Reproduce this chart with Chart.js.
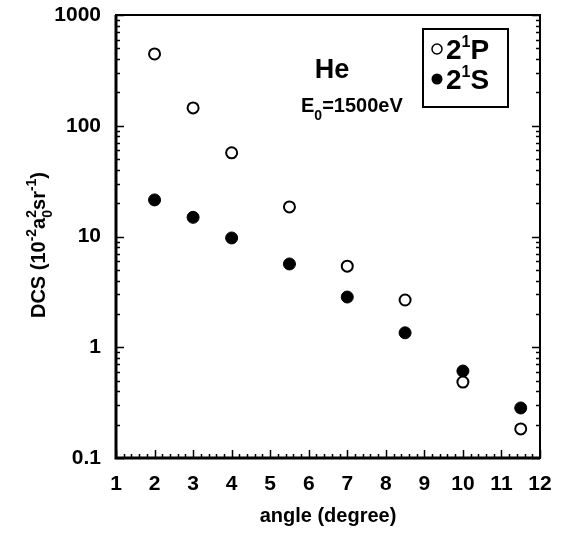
<!DOCTYPE html>
<html>
<head>
<meta charset="utf-8">
<script src="https://cdn.jsdelivr.net/npm/chart.js@4"></script>
<style>
  body { margin: 0; background: #fff; }
  canvas { display: block; }
</style>
</head>
<body>
<canvas id="dcsChart" width="562" height="536"></canvas>
<script>
// angle (degree) and DCS values
const angles = [2, 3, 4, 5.5, 7, 8.5, 10, 11.5];
const dcs21P = [445, 145, 57, 18.5, 5.4, 2.67, 0.485, 0.183];
const dcs21S = [21.4, 14.9, 9.7, 5.65, 2.84, 1.35, 0.61, 0.283];
const decadeLabels = ['0.1', '1', '10', '100', '1000'];

const FONT = 'Liberation Sans, Arial, sans-serif';

function toPoints(ys) {
    return angles.map((x, i) => ({ x: x, y: ys[i] }));
}

// draws text pieces one after the other, some raised or lowered
function drawPieces(ctx, pieces, x, y) {
    let cx = x;
    pieces.forEach(p => {
        ctx.font = 'bold ' + p.size + 'px ' + FONT;
        if (p.stack) {
            // super and subscript on the same spot
            let w = 0;
            p.stack.forEach(s => {
                ctx.font = 'bold ' + s.size + 'px ' + FONT;
                ctx.fillText(s.t, cx, y + s.dy);
                w = Math.max(w, ctx.measureText(s.t).width);
            });
            cx += w;
        } else {
            ctx.fillText(p.t, cx, y + (p.dy || 0));
            cx += ctx.measureText(p.t).width;
        }
    });
    return cx - x;
}

function piecesWidth(ctx, pieces) {
    ctx.save();
    ctx.globalAlpha = 0;
    const w = drawPieces(ctx, pieces, 0, 0);
    ctx.restore();
    return w;
}

const framePlugin = {
    id: 'frameAndText',
    afterDraw(chart) {
        const ctx = chart.ctx;
        const a = chart.chartArea;
        const xs = chart.scales.x;
        const ys = chart.scales.y;
        ctx.save();
        ctx.strokeStyle = '#000';
        ctx.fillStyle = '#000';

        // frame
        ctx.lineWidth = 2;
        ctx.strokeRect(a.left, a.top, a.right - a.left, a.bottom - a.top);
        ctx.lineWidth = 3;
        ctx.beginPath();
        ctx.moveTo(a.left, a.top);
        ctx.lineTo(a.left, a.bottom);
        ctx.lineTo(a.right, a.bottom);
        ctx.stroke();

        // inward ticks
        ctx.lineWidth = 1.5;
        ctx.beginPath();
        for (let v = 1; v <= 12.001; v += 0.2) {
            const px = Math.round(xs.getPixelForValue(v)) + 0.5;
            const major = Math.abs(v - Math.round(v)) < 1e-6;
            ctx.moveTo(px, a.bottom);
            ctx.lineTo(px, a.bottom - (major ? 8 : 4));
        }
        for (let d = -1; d <= 3; d++) {
            for (let m = 1; m <= 9; m++) {
                const v = m * Math.pow(10, d);
                if (v > 1000.0001) break;
                const py = Math.round(ys.getPixelForValue(v)) + 0.5;
                const len = m === 1 ? 8 : 4;
                ctx.moveTo(a.left, py);
                ctx.lineTo(a.left + len, py);
                ctx.moveTo(a.right, py);
                ctx.lineTo(a.right - len, py);
            }
        }
        ctx.stroke();

        // y axis title, rotated
        const yTitle = [
            { t: 'DCS (10', size: 20 },
            { t: '-2', size: 14, dy: -9 },
            { t: 'a', size: 20 },
            { stack: [{ t: '2', size: 14, dy: -9 }, { t: '0', size: 14, dy: 7 }], size: 14 },
            { t: 'sr', size: 20 },
            { t: '-1', size: 14, dy: -9 },
            { t: ')', size: 20 }
        ];
        ctx.save();
        ctx.translate(45, 245);
        ctx.rotate(-Math.PI / 2);
        ctx.textBaseline = 'alphabetic';
        const tw = piecesWidth(ctx, yTitle);
        drawPieces(ctx, yTitle, -tw / 2, 0);
        ctx.restore();

        // labels inside the plot
        ctx.textBaseline = 'alphabetic';
        ctx.font = 'bold 27px ' + FONT;
        ctx.textAlign = 'center';
        ctx.fillText('He', 332, 78);
        ctx.textAlign = 'left';
        drawPieces(ctx, [
            { t: 'E', size: 20 },
            { t: '0', size: 14, dy: 8 },
            { t: '=1500eV', size: 20 }
        ], 301, 112);

        // legend
        ctx.lineWidth = 2;
        ctx.strokeRect(423, 29, 85, 78);
        ctx.lineWidth = 1.5;
        ctx.beginPath();
        ctx.arc(437, 49, 5, 0, Math.PI * 2);
        ctx.fillStyle = '#fff';
        ctx.fill();
        ctx.stroke();
        ctx.fillStyle = '#000';
        ctx.beginPath();
        ctx.arc(437, 79, 5.5, 0, Math.PI * 2);
        ctx.fill();
        drawPieces(ctx, [{ t: '2', size: 28 }, { t: '1', size: 16, dy: -12 }, { t: 'P', size: 28 }], 446, 59);
        drawPieces(ctx, [{ t: '2', size: 28 }, { t: '1', size: 16, dy: -12 }, { t: 'S', size: 28 }], 446, 89);

        ctx.restore();
    }
};

const ctx = document.getElementById('dcsChart').getContext('2d');
const dcsChart = new Chart(ctx, {
    type: 'scatter',
    data: {
        datasets: [
            {
                label: '2¹P',
                data: toPoints(dcs21P),
                pointStyle: 'circle',
                pointRadius: 5.5,
                pointBorderWidth: 2,
                pointBackgroundColor: '#fff',
                pointBorderColor: '#000'
            },
            {
                label: '2¹S',
                data: toPoints(dcs21S),
                pointStyle: 'circle',
                pointRadius: 6,
                pointBorderWidth: 1,
                pointBackgroundColor: '#000',
                pointBorderColor: '#000'
            }
        ]
    },
    options: {
        responsive: false,
        animation: false,
        devicePixelRatio: 1,
        layout: { padding: { top: 15, right: 22, left: 0, bottom: 0 } },
        plugins: {
            legend: { display: false },
            tooltip: { enabled: false }
        },
        scales: {
            x: {
                type: 'linear',
                min: 1,
                max: 12,
                grid: { display: false, drawTicks: false },
                border: { display: false },
                ticks: {
                    stepSize: 1,
                    padding: 14,
                    color: '#000',
                    font: { family: FONT, weight: 'bold', size: 21 }
                },
                title: {
                    display: true,
                    text: 'angle (degree)',
                    color: '#000',
                    font: { family: FONT, weight: 'bold', size: 20 },
                    padding: { top: 0, bottom: 8 }
                },
                afterFit(scale) {
                    scale.height = 78;
                    scale.paddingLeft = 0;
                    scale.paddingRight = 0;
                }
            },
            y: {
                type: 'logarithmic',
                min: 0.1,
                max: 1000,
                grid: { display: false, drawTicks: false },
                border: { display: false },
                ticks: {
                    autoSkip: false,
                    padding: 15,
                    color: '#000',
                    font: { family: FONT, weight: 'bold', size: 21 },
                    callback(value) {
                        const l = Math.log10(value);
                        if (Math.abs(l - Math.round(l)) > 1e-9) return '';
                        return decadeLabels[Math.round(l) + 1];
                    }
                },
                afterFit(scale) {
                    scale.width = 116;
                    scale.paddingTop = 0;
                    scale.paddingBottom = 0;
                }
            }
        }
    },
    plugins: [framePlugin]
});
</script>
</body>
</html>
